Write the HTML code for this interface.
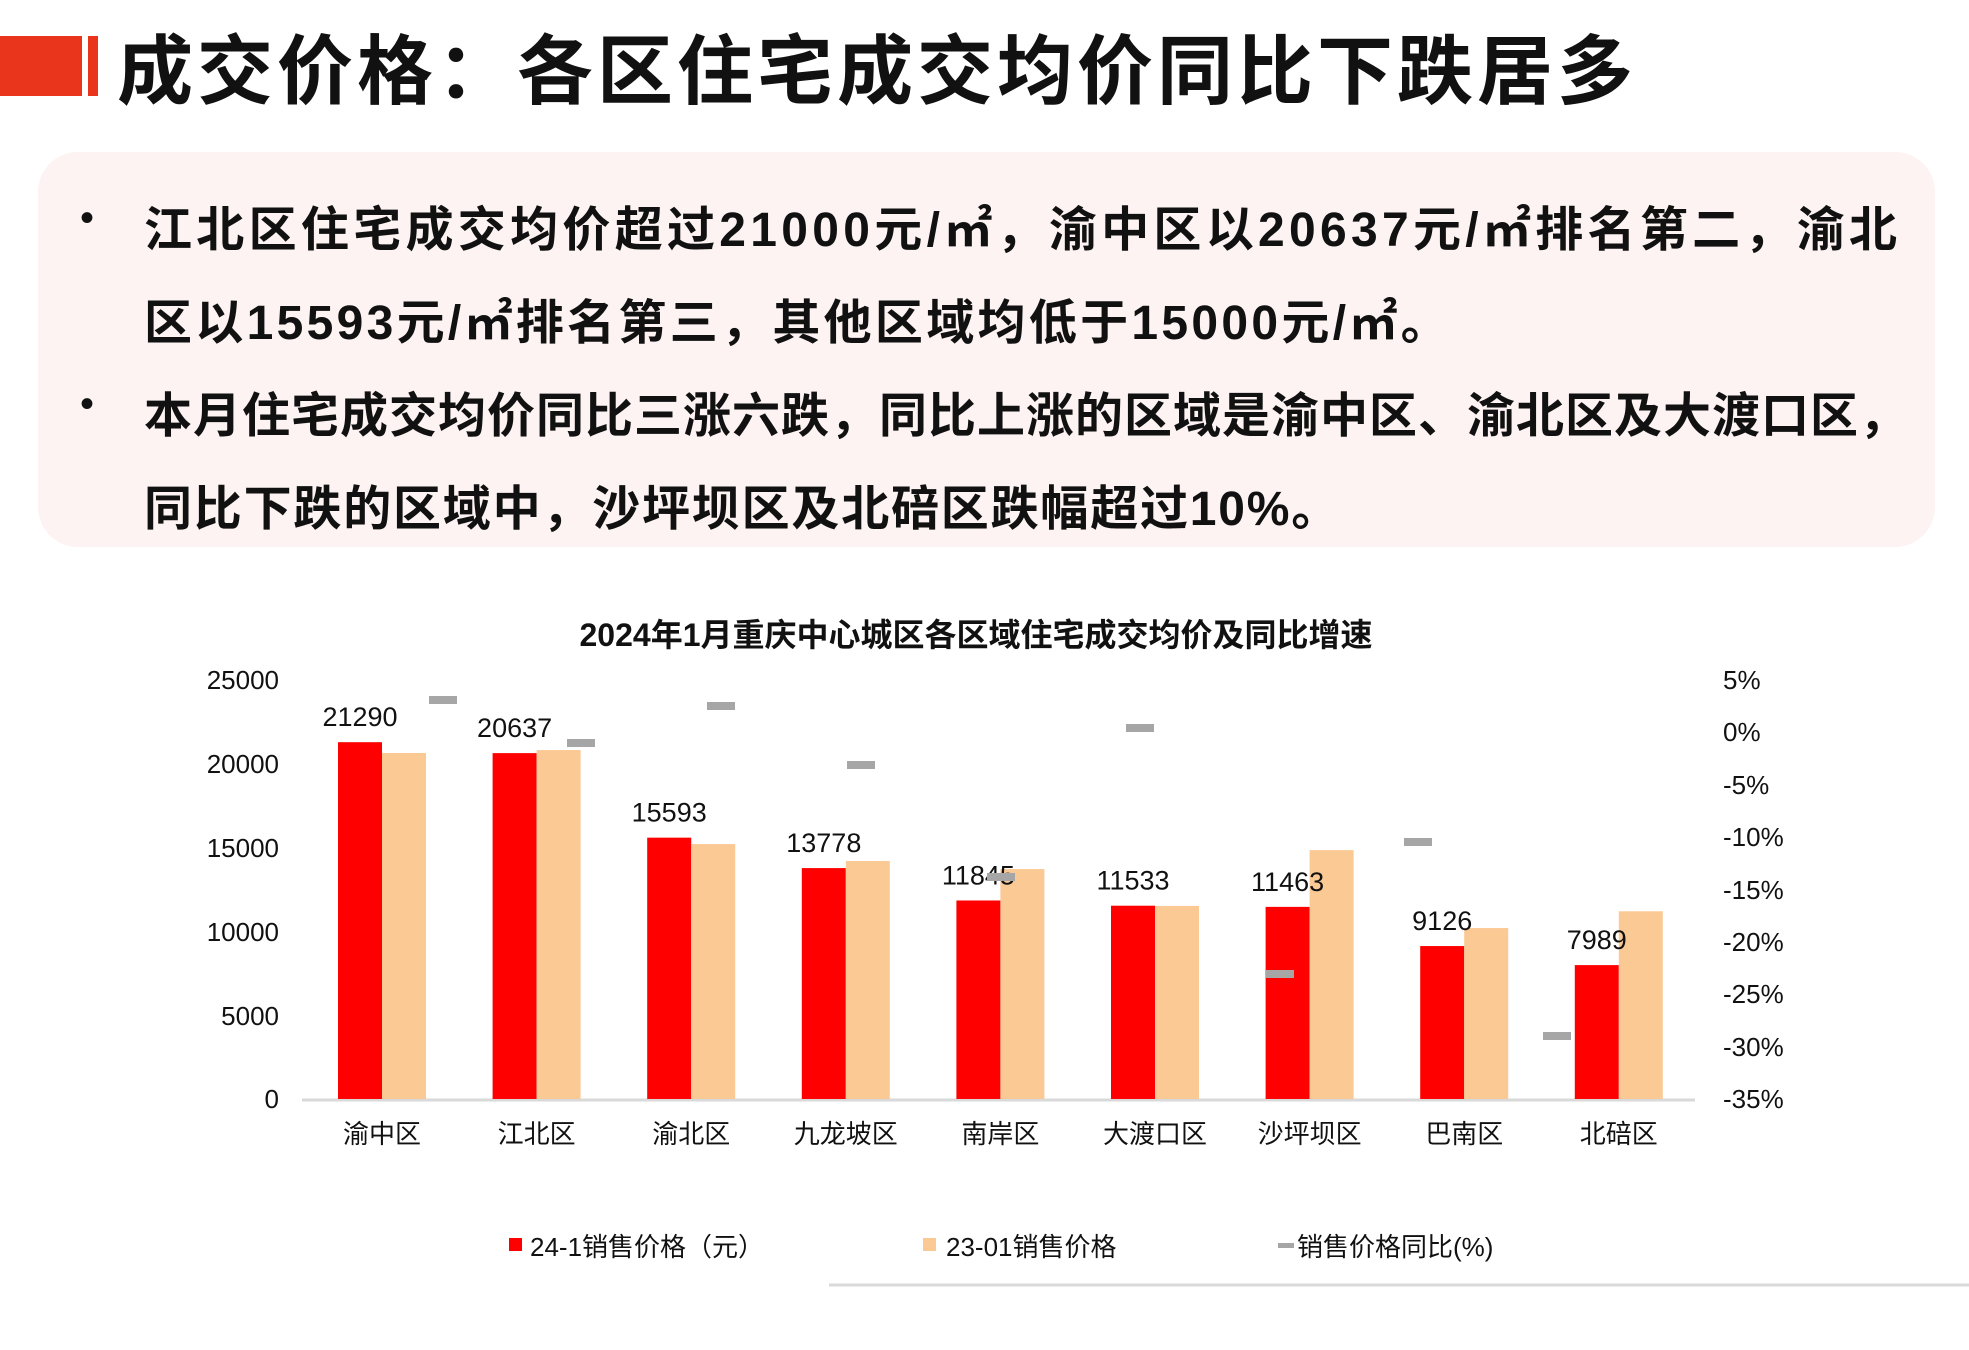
<!DOCTYPE html>
<html><head><meta charset="utf-8"><style>
body{margin:0;width:1969px;height:1350px;background:#fff;position:relative;overflow:hidden;font-family:"Liberation Sans","Noto Sans CJK SC",sans-serif}
.a{position:absolute;white-space:nowrap}
.t{font-weight:bold;font-size:76px;color:#111;left:117px;top:10px;letter-spacing:4px}
.box{position:absolute;left:38px;top:152px;width:1897px;height:395px;background:#fcf3f2;border-radius:40px}
.l{font-weight:bold;font-size:48px;color:#111;left:144px;letter-spacing:1px}
.b{font-size:40px;left:80px;color:#111}
</style></head><body>
<div class="a" style="left:0;top:36px;width:82px;height:60px;background:#e8351c"></div>
<div class="a" style="left:88px;top:36px;width:10px;height:60px;background:#e8351c"></div>
<div class="a t">成交价格：各区住宅成交均价同比下跌居多</div>
<div class="box"></div>
<div class="a b" style="top:196px">•</div>
<div class="a b" style="top:382px">•</div>
<div class="a l" style="top:190px;letter-spacing:4.3px">江北区住宅成交均价超过21000元/㎡，渝中区以20637元/㎡排名第二，渝北</div>
<div class="a l" style="top:283px;letter-spacing:3.3px">区以15593元/㎡排名第三，其他区域均低于15000元/㎡。</div>
<div class="a l" style="top:376px">本月住宅成交均价同比三涨六跌，同比上涨的区域是渝中区、渝北区及大渡口区，</div>
<div class="a l" style="top:469px;letter-spacing:1.8px">同比下跌的区域中，沙坪坝区及北碚区跌幅超过10%。</div>
<svg class="a" style="left:0;top:0" width="1969" height="1350" font-family="Liberation Sans, Noto Sans CJK SC, sans-serif">
<text x="976" y="646" font-size="32" font-weight="bold" text-anchor="middle" fill="#111">2024年1月重庆中心城区各区域住宅成交均价及同比增速</text>
<g font-size="26" fill="#111" text-anchor="end">
<text x="279" y="689">25000</text><text x="279" y="773">20000</text><text x="279" y="857">15000</text><text x="279" y="941">10000</text><text x="279" y="1025">5000</text><text x="279" y="1108">0</text>
</g>
<g font-size="26" fill="#111">
<text x="1723" y="689">5%</text><text x="1723" y="741">0%</text><text x="1723" y="794">-5%</text><text x="1723" y="846">-10%</text><text x="1723" y="899">-15%</text><text x="1723" y="951">-20%</text><text x="1723" y="1003">-25%</text><text x="1723" y="1056">-30%</text><text x="1723" y="1108">-35%</text>
</g>
<line x1="302" y1="1100" x2="1695" y2="1100" stroke="#d9d9d9" stroke-width="3"/>
<g id="bars"></g>
<g font-size="26" fill="#111" text-anchor="middle" id="labs"></g>
<g id="dash"></g>
<rect x="509" y="1238" width="13" height="13" fill="#ff0000"/>
<text x="530" y="1256" font-size="26" fill="#111">24-1销售价格（元）</text>
<rect x="923" y="1238" width="13" height="13" fill="#fbc994"/>
<text x="946" y="1256" font-size="26" fill="#111">23-01销售价格</text>
<rect x="1278" y="1243" width="16" height="5" fill="#a6a6a6"/>
<text x="1297" y="1256" font-size="26" fill="#111">销售价格同比(%)</text>
<line x1="829" y1="1285" x2="1969" y2="1285" stroke="#d9d9d9" stroke-width="3"/>
</svg>
<script>
var cats=["渝中区","江北区","渝北区","九龙坡区","南岸区","大渡口区","沙坪坝区","巴南区","北碚区"];
var a=[21290,20637,15593,13778,11845,11533,11463,9126,7989];
var b=[20645,20820,15210,14200,13720,11520,14850,10200,11200];
var d=[700,743,706,765,877,728,974,842,1036];
var dx=[443,581,721,861,1001,1140,1280,1418,1557];
var s="",t="",u="";
for(var i=0;i<9;i++){var x=338+154.6*i;
var ha=a[i]*0.01676,hb=b[i]*0.01676;
s+='<rect x="'+x+'" y="'+(1099-ha)+'" width="44" height="'+ha+'" fill="#ff0000"/>';
s+='<rect x="'+(x+44)+'" y="'+(1099-hb)+'" width="44" height="'+hb+'" fill="#fbc994"/>';
u+='<rect x="'+(dx[i]-14)+'" y="'+(d[i]-4)+'" width="28" height="8" fill="#a6a6a6"/>';
t+='<text x="'+(x+22)+'" y="'+(1099-ha-16)+'" font-size="27">'+a[i]+'</text>';
t+='<text x="'+(x+44)+'" y="1143">'+cats[i]+'</text>';}
document.getElementById("bars").innerHTML=s;document.getElementById("labs").innerHTML=t;document.getElementById("dash").innerHTML=u;
</script>
</body></html>
